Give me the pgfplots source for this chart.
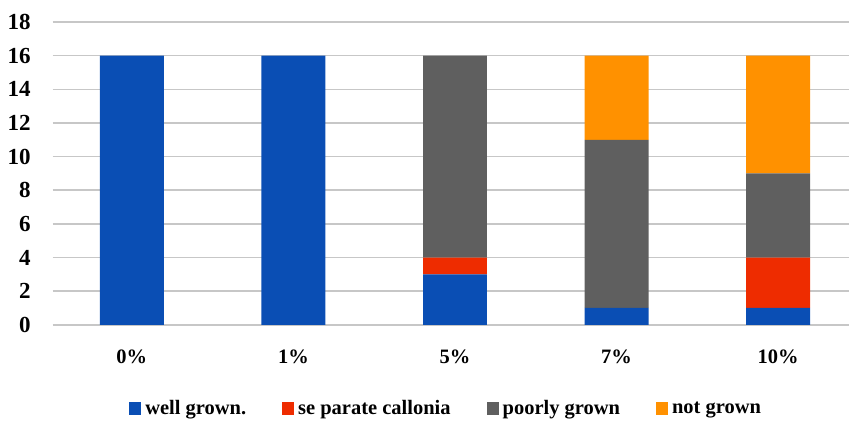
\documentclass[border=0pt]{standalone}
\usepackage{pgfplots}
\pgfplotsset{compat=1.18}
\usepackage{fontspec}
\setmainfont{Liberation Serif}
\definecolor{cblue}{RGB}{10,78,180}
\definecolor{cred}{RGB}{238,44,0}
\definecolor{cgray}{RGB}{95,95,95}
\definecolor{corange}{RGB}{255,145,0}
\begin{document}
\begin{tikzpicture}
\begin{axis}[
  scale only axis, width=797pt, height=303pt,
  ybar stacked, bar width=64pt,
  xmin=-0.49, xmax=4.44, ymin=0, ymax=18,
  ytick={0,2,...,18}, xtick={0,1,2,3,4},
  xticklabels={0\%,1\%,5\%,7\%,10\%},
  axis line style={draw=none}, major tick length=0pt,
  ymajorgrids, grid style={line width=1.5pt, color=black!22},
  yticklabel style={font=\fontsize{23}{23}\selectfont\bfseries, anchor=east, xshift=-18.5pt},
  xticklabel style={font=\fontsize{20.5}{20.5}\selectfont\bfseries, anchor=base, yshift=-38.5pt},
  /pgf/number format/assume math mode=true,
  legend style={at={(0.494,-0.2756)}, anchor=center, draw=none, fill=none,
    legend columns=4, font=\fontsize{20.5}{20.5}\selectfont\bfseries,
    /tikz/every even column/.append style={column sep=34pt},
    /tikz/every odd column/.append style={column sep=2pt}},
  legend image code/.code={\fill[#1] (0pt,-6.5pt) rectangle (12pt,6.5pt);},
]
\addplot[fill=cblue, draw=none] coordinates {(0,16) (1,16) (2,3) (3,1) (4,1)};
\addplot[fill=cred, draw=none] coordinates {(0,0) (1,0) (2,1) (3,0) (4,3)};
\addplot[fill=cgray, draw=none] coordinates {(0,0) (1,0) (2,12) (3,10) (4,5)};
\addplot[fill=corange, draw=none] coordinates {(0,0) (1,0) (2,0) (3,5) (4,7)};
\legend{well grown.,se parate callonia,poorly grown,not grown}
\end{axis}
\useasboundingbox ([xshift=-52.7pt,yshift=-96pt]current axis.south west) rectangle ([yshift=22pt]current axis.north east);
\end{tikzpicture}
\end{document}
